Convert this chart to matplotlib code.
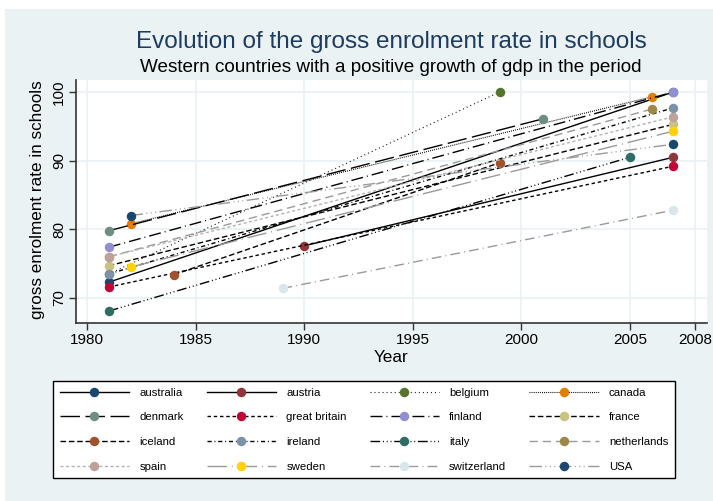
import matplotlib.pyplot as plt
from matplotlib.patches import Rectangle

plt.rcParams['font.family'] = ['Liberation Sans', 'DejaVu Sans']
plt.rcParams['lines.scale_dashes'] = False

countries = ['australia', 'austria', 'belgium', 'canada',
             'denmark', 'great britain', 'finland', 'france',
             'iceland', 'ireland', 'italy', 'netherlands',
             'spain', 'sweden', 'switzerland', 'USA']
start_year = [1981, 1990, 1981, 1982, 1981, 1981, 1981, 1981,
              1984, 1981, 1981, 1981, 1981, 1982, 1989, 1982]
end_year = [2007, 2007, 1999, 2006, 2001, 2007, 2007, 2007,
            1999, 2007, 2005, 2006, 2007, 2007, 2007, 2007]
start_rate = [72.3, 77.6, 73.5, 80.8, 79.8, 71.6, 77.4, 74.7,
              73.4, 73.5, 68.1, 76.0, 76.0, 74.5, 71.4, 82.0]
end_rate = [100.0, 90.5, 100.0, 99.3, 96.1, 89.2, 100.0, 95.3,
            89.7, 97.7, 90.5, 97.5, 96.4, 94.3, 82.8, 92.4]

x_ticks = [1980, 1985, 1990, 1995, 2000, 2005, 2008]
y_ticks = [70, 80, 90, 100]

# stata s2color marker colours
marker_colors = ['#1A476F', '#90353B', '#55752F', '#E37E00',
                 '#6E8E84', '#C10534', '#938DD2', '#CAC27E',
                 '#A0522D', '#7B92A8', '#2D6D66', '#9C8847',
                 '#BFA19C', '#FFD200', '#D9E6EB', '#1A476F']
grey = '#9a9a9a'
line_colors = ['black'] * 11 + [grey, '#b3b3b3', grey, grey, grey]
line_styles = ['-', '-', (0, (0.7, 2.2)), (0, (0.7, 0.8)),
               (0, (14, 4)), (0, (2.5, 2)), (0, (8.6, 2.9, 0.7, 2.9)), (0, (4, 2)),
               (0, (4, 2)), (0, (3, 2, 0.7, 2)), (0, (7, 2, 0.7, 2, 0.7, 2, 0.7, 2)), (0, (6, 3.5)),
               (0, (2.2, 1.8)), (0, (14, 3.5, 0.7, 3.5)), (0, (7, 3, 0.7, 3)),
               (0, (9, 2.5, 0.7, 2.5, 0.7, 2.5, 0.7, 2.5))]
line_widths = [1.0, 1.0, 0.8, 0.8] + [1.0] * 12

fig = plt.figure(figsize=(7.13, 5.01), dpi=100)
fig.patch.set_facecolor('white')
fig.patches.append(Rectangle((5 / 713, 0), 1, 1 - 9 / 501, transform=fig.transFigure,
                             facecolor='#EAF2F3', edgecolor='none', zorder=-10))

ax = fig.add_axes([0.1066, 0.3553, 0.885, 0.485])
ax.set_facecolor('white')

for i, name in enumerate(countries):
    ax.plot([start_year[i], end_year[i]], [start_rate[i], end_rate[i]],
            color=line_colors[i], linestyle=line_styles[i], lw=line_widths[i],
            marker='o', markersize=5.8, markerfacecolor=marker_colors[i],
            markeredgecolor=marker_colors[i], label=name)

ax.set_xlim(1979.49, 2008.55)
ax.set_ylim(66.36, 101.75)
ax.set_xticks(x_ticks)
ax.set_yticks(y_ticks)
ax.grid(True, color='#EAF2F3', lw=1.3)
ax.set_axisbelow(True)
for s in ['top', 'right']:
    ax.spines[s].set_visible(False)
for s in ['left', 'bottom']:
    ax.spines[s].set_color('#333333')
    ax.spines[s].set_linewidth(1.2)
ax.tick_params(direction='out', length=5, width=1, color='#333333', labelsize=11, pad=2)
for lab in ax.get_yticklabels():
    lab.set_rotation(90)
    lab.set_va('center')

fig.text(391 / 713, 1 - 42 / 501, 'Evolution of the gross enrolment rate in schools',
         ha='center', va='center', fontsize=17.5, color='#1E3B61')
fig.text(391 / 713, 1 - 68 / 501, 'Western countries with a positive growth of gdp in the period',
         ha='center', va='center', fontsize=13.6, color='black')
fig.text(38 / 713, 1 - 200 / 501, 'gross enrolment rate in schools', rotation=90,
         ha='center', va='center', fontsize=12.3)
fig.text(391 / 713, 1 - 358 / 501, 'Year', ha='center', va='center', fontsize=12.3)

# legend is filled row by row in the original
handles, labels = ax.get_legend_handles_labels()
order = [i for c in range(4) for i in range(c, 16, 4)]
leg = fig.legend([handles[i] for i in order], [labels[i] for i in order], ncol=4,
                 loc='upper center', bbox_to_anchor=(0.5105, 1 - 381 / 501),
                 bbox_transform=fig.transFigure, borderaxespad=0, fontsize=8.2,
                 handlelength=6.1, handletextpad=0.9, columnspacing=2.0,
                 labelspacing=1.28, borderpad=0.6, fancybox=False,
                 edgecolor='black', framealpha=1)
leg.get_frame().set_linewidth(1.0)

fig.savefig('out.png', dpi=100, facecolor=fig.get_facecolor())
